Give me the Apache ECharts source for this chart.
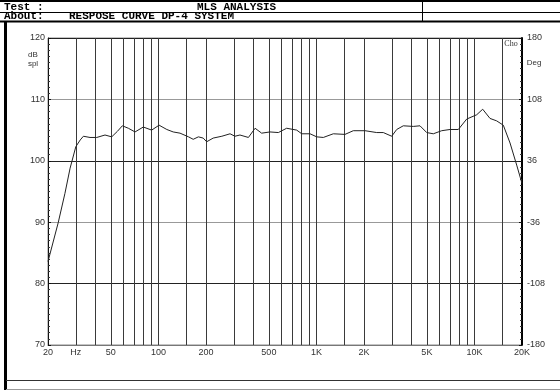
<!DOCTYPE html>
<html>
<head>
<meta charset="utf-8">
<script src="https://cdn.jsdelivr.net/npm/echarts@6/dist/echarts.min.js"></script>
<style>
html, body { margin: 0; padding: 0; background: #fff; }
#mls { width: 560px; height: 390px; }
</style>
</head>
<body>
<div id="mls"></div>
<script>
var myChart = echarts.init(document.getElementById('mls'));

var freq = [20, 23.2, 25.6, 27.6, 30, 32, 33.5, 36.9, 40.7, 45.9,
    50.6, 55, 59.1, 64.5, 71.1, 80.2, 90.6, 101, 113, 124,
    137, 155, 166, 179, 192, 202, 222, 252, 284, 305,
    328, 371, 409, 450, 508, 574, 648, 750, 807, 911,
    1004, 1105, 1279, 1516, 1711, 2030, 2407, 2650, 2995, 3221,
    3546, 4103, 4523, 4989, 5491, 6206, 7003, 7906, 8935, 10335,
    11280, 12548, 13830, 15230, 16800, 18510, 20000];
var spl = [83.6, 89.9, 94.7, 98.8, 102.3, 103.4, 104.0, 103.8, 103.8, 104.2,
    103.9, 104.8, 105.7, 105.3, 104.7, 105.5, 105.0, 105.8, 105.1, 104.7,
    104.5, 103.9, 103.5, 103.9, 103.7, 103.1, 103.7, 104.0, 104.4, 104.0,
    104.2, 103.8, 105.3, 104.5, 104.7, 104.6, 105.3, 105.0, 104.4, 104.4,
    103.9, 103.8, 104.4, 104.3, 104.9, 104.9, 104.6, 104.6, 104.0, 105.1,
    105.7, 105.6, 105.7, 104.6, 104.4, 104.9, 105.1, 105.1, 106.8, 107.5,
    108.4, 106.9, 106.5, 105.8, 102.9, 99.3, 96.3];

var gridFreq = [30, 40, 50, 60, 70, 80, 90, 100, 150, 200, 300, 400, 500, 600, 700, 800, 900,
    1000, 1500, 2000, 3000, 4000, 5000, 6000, 7000, 8000, 9000, 10000, 15000];
var tickFreq = [20, 30, 50, 100, 200, 500, 1000, 2000, 5000, 10000, 20000];
var tickText = ['20', 'Hz', '50', '100', '200', '500', '1K', '2K', '5K', '10K', '20K'];

var lineData = [];
for (var i = 0; i < freq.length; i++) {
    lineData.push([freq[i], spl[i]]);
}

var gridLines = [];
for (var i = 0; i < gridFreq.length; i++) {
    gridLines.push({ xAxis: gridFreq[i] });
}
var tickLines = [];
for (var i = 0; i < tickFreq.length; i++) {
    tickLines.push({ xAxis: tickFreq[i], label: { formatter: tickText[i] } });
}

var labelFont = { fontFamily: 'Liberation Sans', fontSize: 9, color: '#333' };
var headFont = 'bold 11px "Liberation Mono"';

option = {
    animation: false,
    backgroundColor: '#fff',
    grid: {
        left: 48, right: 38, top: 38, bottom: 45,
        show: true, borderColor: '#888', borderWidth: 1
    },
    xAxis: {
        type: 'log',
        logBase: 10,
        min: 20,
        max: 20000,
        axisLine: { onZero: false, lineStyle: { color: '#777', width: 1 } },
        axisTick: { show: false },
        axisLabel: { show: false },
        splitLine: { show: false }
    },
    yAxis: [
        {
            type: 'value',
            min: 70, max: 120, interval: 10,
            axisLine: { show: true, lineStyle: { color: '#111', width: 1 } },
            axisTick: { show: true, inside: true, length: 3, lineStyle: { color: '#111' } },
            minorTick: { show: true, splitNumber: 10, length: 2, lineStyle: { color: '#333' } },
            axisLabel: {
                margin: 3,
                fontFamily: labelFont.fontFamily, fontSize: labelFont.fontSize, color: labelFont.color
            },
            splitLine: { show: true, lineStyle: { color: ['#222', '#222', '#999', '#222', '#999', '#222'], width: 1 } }
        },
        {
            type: 'value',
            min: -180, max: 180, interval: 72,
            position: 'right',
            axisLine: { show: true, onZero: false, lineStyle: { color: '#000', width: 2 } },
            axisTick: { show: true, inside: true, length: 3, lineStyle: { color: '#111' } },
            minorTick: { show: true, splitNumber: 10, length: 2, lineStyle: { color: '#333' } },
            axisLabel: {
                margin: 5,
                fontFamily: labelFont.fontFamily, fontSize: labelFont.fontSize, color: labelFont.color
            },
            splitLine: { show: false }
        }
    ],
    graphic: [
        // header box
        { type: 'rect', shape: { x: 0, y: 0, width: 560, height: 2 }, style: { fill: '#000' } },
        { type: 'line', shape: { x1: 0, y1: 12.5, x2: 560, y2: 12.5 }, style: { stroke: '#000', lineWidth: 1 } },
        { type: 'rect', shape: { x: 0, y: 20.5, width: 560, height: 2 }, style: { fill: '#000' } },
        { type: 'line', shape: { x1: 422.5, y1: 0, x2: 422.5, y2: 21 }, style: { stroke: '#000', lineWidth: 1 } },
        { type: 'text', x: 4, y: 7, style: { text: 'Test :', font: headFont, fill: '#000', verticalAlign: 'middle' } },
        { type: 'text', x: 197, y: 7, style: { text: 'MLS ANALYSIS', font: headFont, fill: '#000', verticalAlign: 'middle' } },
        { type: 'text', x: 4, y: 16.5, style: { text: 'About:', font: headFont, fill: '#000', verticalAlign: 'middle' } },
        { type: 'text', x: 69, y: 16.5, style: { text: 'RESPOSE CURVE DP-4 SYSTEM', font: headFont, fill: '#000', verticalAlign: 'middle' } },
        // outer frame
        { type: 'rect', shape: { x: 4, y: 22, width: 3, height: 368 }, style: { fill: '#000' } },
        { type: 'line', shape: { x1: 6, y1: 380.5, x2: 560, y2: 380.5 }, style: { stroke: '#333', lineWidth: 1 } },
        { type: 'line', shape: { x1: 6, y1: 389.5, x2: 560, y2: 389.5 }, style: { stroke: '#999', lineWidth: 1 } },
        // axis names
        { type: 'text', x: 33, y: 55, style: { text: 'dB', font: '8px "Liberation Sans"', fill: '#333', align: 'center', verticalAlign: 'middle' } },
        { type: 'text', x: 33, y: 64, style: { text: 'spl', font: '8px "Liberation Sans"', fill: '#333', align: 'center', verticalAlign: 'middle' } },
        { type: 'text', x: 534, y: 63, style: { text: 'Deg', font: '8px "Liberation Sans"', fill: '#333', align: 'center', verticalAlign: 'middle' } },
        { type: 'text', x: 511, y: 44, style: { text: 'Cho', font: '8px "Liberation Serif"', fill: '#333', align: 'center', verticalAlign: 'middle' } }
    ],
    series: [
        {
            name: 'grid',
            type: 'line',
            data: [],
            z: 1,
            silent: true,
            markLine: {
                symbol: 'none',
                silent: true,
                animation: false,
                label: { show: false },
                lineStyle: { color: '#3a3a3a', width: 1, type: 'solid' },
                data: gridLines
            }
        },
        {
            name: 'ticks',
            type: 'line',
            data: [],
            z: 1,
            silent: true,
            markLine: {
                symbol: 'none',
                silent: true,
                animation: false,
                label: {
                    show: true,
                    position: 'start',
                    distance: 3,
                    fontFamily: labelFont.fontFamily, fontSize: labelFont.fontSize, color: labelFont.color
                },
                lineStyle: { color: 'rgba(0,0,0,0)', width: 0 },
                data: tickLines
            }
        },
        {
            name: 'SPL',
            type: 'line',
            data: lineData,
            z: 5,
            showSymbol: false,
            symbol: 'none',
            lineStyle: { color: '#222', width: 1 }
        }
    ]
};
myChart.setOption(option);
</script>
</body>
</html>
